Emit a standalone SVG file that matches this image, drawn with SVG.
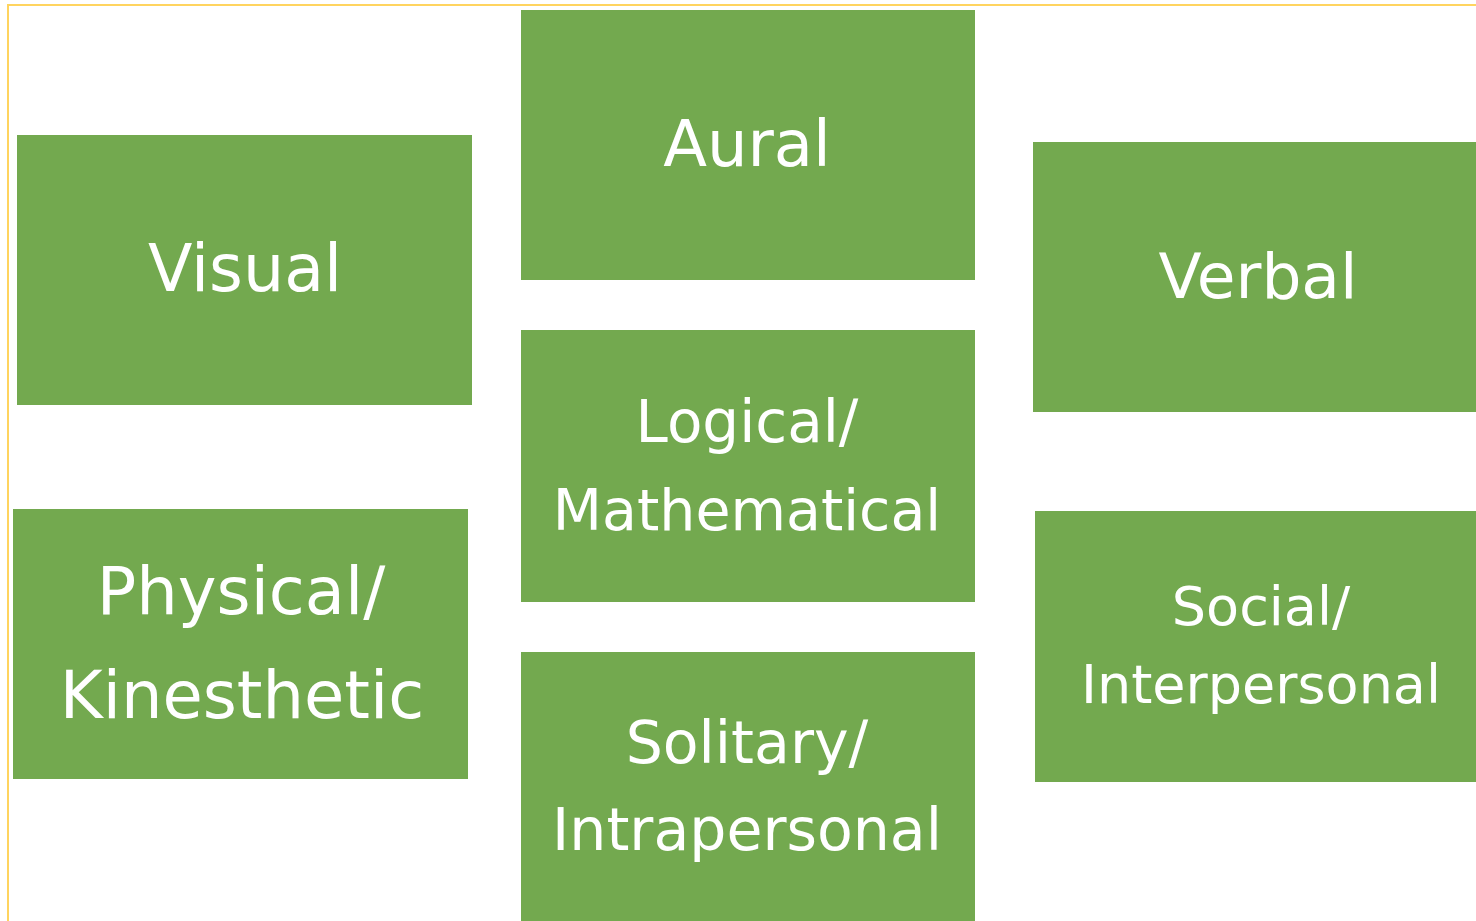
<svg xmlns="http://www.w3.org/2000/svg" width="1476" height="921" viewBox="0 0 1476 921">
<style>
.box{fill:#73A94F;}
.lbl{fill:#FFFFFF;font-family:"DejaVu Sans","Verdana",sans-serif;text-anchor:middle;}
.frame{fill:none;stroke:#FFD45F;stroke-width:2;}
</style>
<rect x="0" y="0" width="1476" height="921" fill="#FFFFFF"/>
<path class="frame" d="M8,921 V5 H1476"/>
<g id="connectors"></g>
<g id="visual">
<rect class="box" x="17" y="135" width="455" height="270"/>
<text class="lbl" x="245" y="291" font-size="65">Visual</text>
</g>
<g id="aural">
<rect class="box" x="521" y="10" width="454" height="270"/>
<text class="lbl" x="747" y="166" font-size="64">Aural</text>
</g>
<g id="verbal">
<rect class="box" x="1033" y="142" width="443" height="270"/>
<text class="lbl" x="1258" y="298" font-size="63">Verbal</text>
</g>
<g id="logical">
<rect class="box" x="521" y="330" width="454" height="272"/>
<text class="lbl" x="747" y="442" font-size="58">Logical/</text>
<text class="lbl" x="747" y="530" font-size="57">Mathematical</text>
</g>
<g id="physical">
<rect class="box" x="13" y="509" width="455" height="270"/>
<text class="lbl" x="241" y="614" font-size="65.5">Physical/</text>
<text class="lbl" x="242" y="718" font-size="65.5">Kinesthetic</text>
</g>
<g id="social">
<rect class="box" x="1035" y="511" width="441" height="271"/>
<text class="lbl" x="1261" y="625" font-size="54">Social/</text>
<text class="lbl" x="1261" y="703" font-size="54">Interpersonal</text>
</g>
<g id="solitary">
<rect class="box" x="521" y="652" width="454" height="269"/>
<text class="lbl" x="747" y="763" font-size="58.5">Solitary/</text>
<text class="lbl" x="747" y="850" font-size="58.5">Intrapersonal</text>
</g>
</svg>
